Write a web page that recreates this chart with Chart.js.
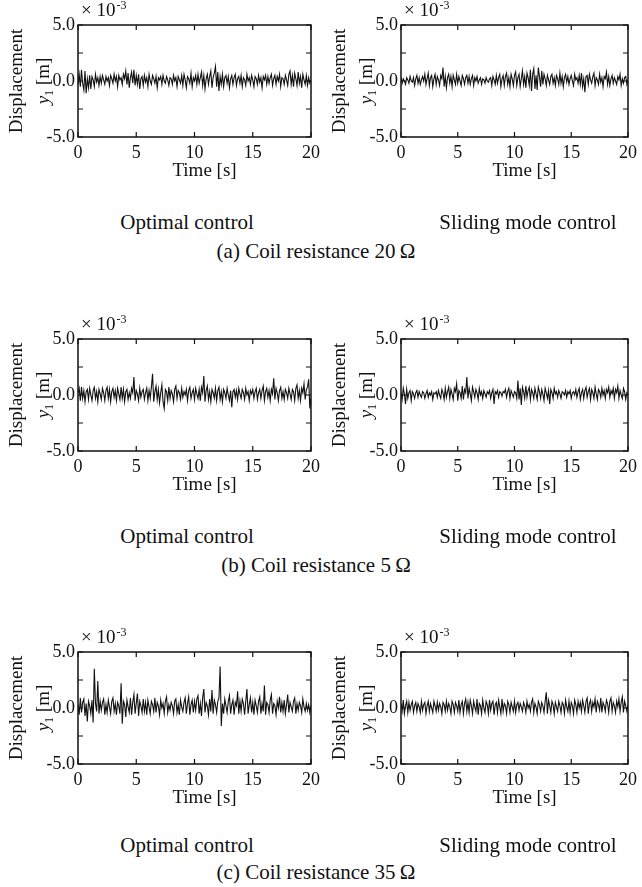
<!DOCTYPE html>
<html>
<head>
<meta charset="utf-8">
<script src="https://cdn.jsdelivr.net/npm/chart.js@4.4.1/dist/chart.umd.min.js"></script>
<style>
  body { margin: 0; background: #fff; }
  #page { position: relative; width: 642px; height: 887px; overflow: hidden; }
  canvas { position: absolute; }
  .cap { position: absolute; font-family: "Liberation Serif", serif; font-size: 21px; color: #111;
         transform: translate(-50%, -50%); white-space: nowrap; }
</style>
</head>
<body>
<div id="page"></div>
<script>
// displacement y1 in units of 1e-3 m, one sample every 0.1 s from 0 to 20 s
const sampleStep = 0.1;

const res20Optimal = [
  -0.3, 0.6, -0.5, 1.0, -0.2, -0.8, 0.9, -1.1, 0.2, -0.6, 0.5, -0.7, 0.4, 0.1, -0.5, 0.6, -0.1, 0.3, -0.4, 0.4,
  -0.2, 0.5, 0.1, -0.3, 0.4, 0.0, 0.3, -0.4, 0.5, 0.2, -0.2, 0.6, 0.0, 0.4, -0.5, 0.5, 0.1, 0.3, -0.3, 0.6,
  0.2, 0.9, -0.3, 0.7, -0.6, 0.3, 0.8, -0.2, 1.0, -0.4, 0.5, -0.3, 0.6, -0.7, 0.2, 0.4, -0.4, 0.5, -0.1, 0.3,
  -0.5, 0.6, 0.0, -0.3, 0.5, 0.2, -0.2, 0.4, -0.6, 0.3, 0.1, 0.4, -0.3, 0.5, 0.0, -0.2, 0.4, 0.1, -0.4, 0.3,
  0.2, -0.3, 0.5, 0.0, 0.3, -0.5, 0.4, 0.1, -0.2, 0.5, -0.4, 0.6, 0.1, -0.6, 0.4, 0.2, -0.2, 0.7, -0.5, 0.3,
  0.0, 0.5, -0.3, 0.6, -0.2, 0.3, 0.8, -0.4, 0.5, -0.7, 0.2, 0.6, -0.3, 0.4, 0.9, -0.6, 0.3, 0.7, 1.3, -0.5,
  0.8, -0.9, 0.4, -0.3, 0.6, -0.5, 0.3, 0.5, -0.2, 0.4, -0.6, 0.2, 0.5, -0.3, 0.3, 0.6, -0.4, 0.2, 0.4, -0.2,
  0.5, -0.5, 0.3, 0.1, -0.4, 0.6, 0.0, 0.3, -0.3, 0.5, 0.1, -0.5, 0.4, 0.2, -0.3, 0.5, -0.1, 0.3, -0.6, 0.4,
  0.1, 0.5, -0.3, 0.4, -0.2, 0.3, 0.6, -0.4, 0.2, 0.5, -0.3, 0.4, 0.0, 0.6, -0.5, 0.3, 0.2, -0.3, 0.5, 0.1,
  -0.4, 0.6, 0.9, -0.3, 0.5, -0.5, 0.7, 0.2, -0.4, 0.8, -0.2, 0.4, -0.6, 0.6, 0.1, -0.3, 0.5, -0.4, 0.3, -0.2,
  0.1
];
const res20Sliding = [
  0.3, -0.2, 0.2, 0.0, -0.3, 0.3, 0.1, -0.2, 0.4, 0.0, -0.1, 0.3, -0.4, 0.2, 0.5, -0.2, 0.3, -0.3, 0.1, 0.4,
  0.0, 0.6, -0.3, 0.2, 0.7, -0.4, 0.3, 0.5, -0.5, 0.2, 0.6, -0.3, 0.4, 0.1, -0.4, 0.5, 0.2, 1.2, -0.5, 0.4,
  -0.6, 0.3, 0.6, -0.2, 0.4, -0.5, 0.5, 0.1, -0.3, 0.6, -0.2, 0.4, 0.0, -0.4, 0.5, 0.2, -0.3, 0.3, 0.5, -0.2,
  0.4, -0.3, 0.2, 0.5, -0.4, 0.3, 0.0, 0.4, -0.2, 0.1, 0.3, -0.3, 0.2, 0.1, -0.2, 0.3, 0.0, -0.1, 0.2, 0.3,
  -0.4, 0.4, 0.1, -0.3, 0.5, -0.2, 0.3, 0.6, -0.5, 0.2, 0.5, -0.4, 0.4, 0.7, -0.3, 0.3, -0.5, 0.6, 0.2, -0.4,
  0.5, 0.8, -0.4, 0.3, 0.6, -0.5, 0.2, 0.9, -0.3, 0.4, -0.6, 0.7, 0.3, -0.4, 1.0, -0.9, 0.6, 1.1, -0.7, 0.5,
  -0.8, 1.2, 0.4, -0.5, 0.9, -0.3, 0.6, 0.2, -0.4, 0.5, 0.1, -0.3, 0.4, 0.6, -0.2, 0.3, -0.4, 0.5, 0.2, -0.3,
  0.7, -0.2, 0.4, -0.5, 0.3, 0.6, -0.1, 0.4, -0.3, 0.2, 0.5, 0.0, -0.4, 0.6, 0.1, 0.3, -0.2, 0.5, -0.3, 0.7,
  -0.5, 0.2, -1.0, 0.4, 0.5, -0.3, 0.6, 0.1, -0.2, 0.4, 0.7, -0.4, 0.3, 0.1, -0.3, 0.6, -0.1, 0.3, -0.5, 0.4,
  0.2, 0.8, -0.3, 0.4, -0.4, 0.2, 0.5, -0.2, 0.3, 0.0, -0.3, 0.4, 0.1, 0.6, -0.4, 0.2, -0.2, 0.3, 0.4, -0.3,
  0.1
];
const res5Optimal = [
  0.2, 0.6, -0.5, 0.7, -0.3, 0.4, -0.6, 0.3, 0.5, -0.4, 0.6, 0.0, -0.5, 0.4, 0.7, -0.3, 0.3, -0.6, 0.5, 0.1,
  -0.4, 0.6, 0.2, -0.5, 0.4, 0.7, -0.3, 0.5, -0.6, 0.3, 0.6, -0.2, 0.4, -0.5, 0.6, 0.1, -0.4, 0.7, -0.3, 0.5,
  -0.6, 0.3, 0.5, -0.4, 0.2, -0.3, 0.6, 0.2, 1.6, -0.5, 0.4, 0.1, -0.5, 0.6, -0.2, 0.3, 0.5, -0.4, 0.2, 0.6,
  -0.5, 0.4, -0.3, 0.7, 1.9, -0.6, 0.3, 0.8, -0.4, 0.5, -0.7, 0.2, 0.9, -0.6, -1.2, 0.5, 0.3, -0.5, 0.7, -0.3,
  0.4, 0.1, -0.6, 0.5, 0.8, -0.3, 0.4, 0.2, -0.4, 0.6, -0.2, 0.3, 0.0, 0.5, -0.5, 0.4, 0.7, -0.3, 0.2, 0.5,
  -0.4, 0.6, 0.1, -0.3, 0.5, -0.5, 0.7, 0.2, 1.7, -0.6, 0.4, 0.8, -0.4, 0.3, -0.6, 0.5, 0.2, -0.3, 0.6, -0.5,
  0.4, 0.7, -0.4, 0.3, -0.6, 0.5, 0.2, -0.3, 0.6, 0.0, -0.5, 0.4, -1.1, 0.3, 0.5, -0.2, 0.4, -0.4, 0.6, 0.1,
  -0.3, 0.5, 0.2, -0.4, 0.6, 0.0, 0.3, -0.5, 0.4, 0.1, 0.5, -0.3, 0.3, 0.6, -0.4, 0.2, 0.5, -0.3, 0.4, 0.8,
  -0.5, 0.3, 0.6, -0.2, 0.4, -0.5, 0.5, 0.1, 1.5, -0.4, 0.6, 0.2, -0.5, 0.4, 0.7, -0.3, 0.3, -0.4, 0.5, 0.2,
  -0.3, 0.6, 0.1, -0.4, 0.5, 0.3, -0.5, 0.6, 0.9, -0.3, 0.4, -0.5, 0.6, 0.2, 1.0, -0.4, 0.5, 0.7, 1.4, -1.2,
  -0.3
];
const res5Sliding = [
  0.2, -0.4, 0.6, 0.1, -0.8, 0.5, -0.3, 0.2, 0.4, -0.5, 0.3, 0.1, -0.3, 0.2, 0.4, -0.2, 0.3, 0.0, -0.2, 0.3,
  0.2, -0.3, 0.1, 0.4, -0.2, 0.2, 0.0, 0.3, -0.4, 0.2, 0.1, 0.3, -0.2, 0.4, 0.0, -0.3, 0.5, 0.2, -0.4, 0.6,
  -0.2, 0.3, 0.7, -0.3, 0.5, 0.1, -0.4, 0.6, 0.3, 1.0, -0.5, 0.4, 0.2, -0.3, 0.8, -0.4, 0.5, 0.2, 1.6, -0.3,
  0.6, 0.1, -0.5, 0.7, 0.3, -0.2, 0.5, 0.2, -0.4, 0.6, 0.0, 0.3, -0.3, 0.4, 0.1, -0.2, 0.3, 0.1, 0.4, -0.3,
  0.2, 0.5, -0.8, 0.3, 0.1, 0.4, -0.2, 0.3, 0.2, -0.1, 0.3, 0.2, 0.5, -0.2, 0.3, 0.6, -0.3, 0.4, 0.1, -0.2,
  0.3, 0.2, -0.3, 1.3, -0.4, 0.6, -0.9, 0.7, 0.3, -0.3, 0.8, -0.2, 0.4, 0.7, -0.4, 0.5, 0.2, -0.3, 0.6, 0.1,
  -0.4, 0.7, 0.3, -0.3, 0.5, 0.1, -0.5, 0.6, 0.2, -0.3, 0.4, -0.8, 0.5, 0.2, -0.3, 0.6, 0.1, 0.3, -0.2, 0.4,
  0.1, -0.3, 0.3, 0.2, 0.0, 0.4, -0.2, 0.3, 0.1, 0.4, -0.3, 0.2, 0.3, 0.0, 0.5, -0.2, 0.3, 0.6, -0.4, 0.2,
  0.5, -0.3, 0.4, 0.7, -0.2, 0.3, 0.6, -0.4, 0.5, 0.2, -0.3, 0.7, 0.1, -0.4, 0.5, 0.3, -0.2, 0.6, 0.0, 0.4,
  -0.3, 0.5, 0.2, 0.7, -0.2, 0.4, 0.1, 0.6, -0.3, 0.5, 0.2, 0.8, -0.3, 0.4, 0.0, -0.3, 0.6, 0.3, -0.4, 0.2,
  0.0
];
const res35Optimal = [
  0.3, -0.6, 0.9, -0.4, 0.5, 0.8, -0.7, 0.4, -1.2, 0.6, 0.2, -0.5, 0.7, -1.3, 3.5, 0.4, -0.3, 2.4, -0.5, 0.6,
  -0.2, 0.5, 0.8, -0.6, 0.3, -0.4, 0.7, 0.1, -0.5, 0.6, 0.9, -0.3, 0.4, -0.6, 0.5, 0.2, -0.5, 2.2, -1.4, 0.6,
  0.3, -0.8, 0.7, 0.1, -0.4, 0.9, -0.6, 0.5, 1.2, -0.5, 0.4, 1.3, -0.7, 0.6, 0.2, -0.4, 0.8, -0.3, 0.5, -0.6,
  0.7, 0.1, -0.5, 0.6, 0.3, -0.3, 0.9, -0.4, 0.5, 0.2, -0.6, 0.7, 0.0, 0.4, -0.5, 0.6, 1.0, -0.4, 0.3, -0.2,
  0.5, 0.2, -0.5, 0.6, 0.8, -0.4, 0.3, -0.6, 0.7, 0.1, -0.3, 0.5, 0.9, -0.5, 0.4, 1.0, -0.6, 0.3, 0.7, -0.4,
  0.6, -0.2, 0.8, 1.1, -0.5, 0.4, -0.7, 0.9, 1.7, -0.4, 0.5, 0.2, -0.6, 0.8, -0.3, 1.6, -0.5, 0.7, 0.3, -0.4,
  0.6, 0.9, 3.7, -1.6, 0.4, -0.5, 0.8, 0.2, -0.4, 0.6, 1.1, -0.5, 0.3, 0.7, -0.6, 0.5, 0.2, 1.5, -0.5, 0.6,
  -0.3, 0.8, 0.4, -0.6, 0.6, 1.7, -0.5, 0.3, 0.9, -0.4, 0.5, -0.6, 0.7, 0.2, -0.4, 0.6, 1.0, -0.5, 0.4, -0.3,
  2.0, -0.6, 0.5, 0.3, -0.4, 0.7, 1.2, -0.5, 0.4, 0.2, -0.6, 0.6, 0.0, 1.0, -0.4, 0.5, -0.3, 0.7, -0.5, 0.3,
  1.2, -0.4, 0.5, 0.1, -0.3, 0.6, 0.9, -0.5, 0.4, -0.2, 0.5, 0.2, -0.4, 0.8, 0.1, -0.3, 0.4, -0.2, 0.3, -0.4,
  0.2
];
const res35Sliding = [
  0.4, -0.3, 0.7, -0.5, 0.2, 0.6, -0.4, 0.5, -0.2, 0.3, 0.6, -0.4, 0.2, 0.5, -0.3, 0.4, 0.1, -0.4, 0.6, -0.2,
  0.3, 0.5, -0.5, 0.2, 0.6, -0.3, 0.4, 0.0, -0.4, 0.6, 0.2, -0.3, 0.5, -0.2, 0.4, 0.1, -0.5, 0.5, 0.3, -0.3,
  0.6, -0.2, 0.4, 0.1, -0.5, 0.6, 0.3, -0.4, 0.5, 0.2, -0.3, 0.7, -0.4, 0.3, 0.6, -0.5, 0.4, 0.8, -0.3, 0.5,
  -0.4, 0.7, 0.2, -0.5, 0.6, 0.1, -0.3, 0.8, -0.6, 0.4, 0.2, -0.5, 0.7, 0.0, -0.4, 0.6, 0.3, -0.5, 0.7, -0.2,
  0.4, 0.6, -0.6, 0.3, 0.5, -0.4, 0.7, 0.1, -0.5, 0.8, -0.3, 0.4, 0.2, -0.5, 0.6, 0.3, -0.4, 0.5, 0.1, -0.3,
  0.6, -0.4, 0.3, 0.5, -0.2, 0.4, 0.1, -0.3, 0.5, 0.2, -0.4, 0.6, 0.0, 0.3, -0.3, 0.5, 0.8, -0.4, 0.4, 0.1,
  -0.5, 0.6, 0.3, -0.3, 0.5, 0.2, -0.4, 0.6, 1.4, -0.5, 0.7, 0.2, -0.4, 0.6, 0.3, -0.5, 0.5, 0.1, -0.3, 0.6,
  0.2, -0.4, 0.5, 0.3, -0.5, 0.7, 0.1, -0.3, 0.6, -0.4, 0.5, 0.2, -0.5, 0.7, 0.3, -0.4, 0.6, 0.0, 0.5, -0.3,
  0.7, 0.2, -0.4, 0.6, 0.9, -0.5, 0.4, 0.7, -0.3, 0.5, 0.1, 0.8, -0.4, 0.6, 0.3, -0.2, 0.9, -0.4, 0.5, 0.2,
  -0.3, 0.7, 0.4, -0.4, 0.6, 0.9, -0.3, 0.5, 0.2, -0.4, 0.6, 0.1, 0.8, -0.3, 0.5, 1.0, -0.4, 0.6, 0.2, -0.3,
  0.3
];

const xTickValues = [0, 5, 10, 15, 20];
const yTickValues = [-5, -2.5, 0, 2.5, 5];
const yLabelledTicks = [-5, 0, 5];
const controlNames = ['Optimal control', 'Sliding mode control'];
const caseTitles = ['(a) Coil resistance 20\u2009\u03A9', '(b) Coil resistance 5\u2009\u03A9', '(c) Coil resistance 35\u2009\u03A9'];
const caseSeries = [[res20Optimal, res20Sliding], [res5Optimal, res5Sliding], [res35Optimal, res35Sliding]];

// layout (px)
const rowTops = [25, 339, 652];
const nameRows = [222, 536, 845];
const titleRows = [251, 565, 872];
const colLefts = [0, 323];
const colWidths = [330, 319];
const colRightPad = [19, 10];
const plotHeight = 112;
const canvasHeight = 190;
const capCentres = [187, 528];
const titleCentre = 316;

const serif = '"Liberation Serif", "Times New Roman", serif';

const framePlugin = {
  id: 'frame',
  afterDraw(chart) {
    const { ctx, chartArea: a, scales: { x, y } } = chart;
    ctx.save();
    ctx.strokeStyle = '#111';
    ctx.lineWidth = 1.5;
    ctx.strokeRect(a.left, a.top, a.right - a.left, a.bottom - a.top);
    ctx.lineWidth = 1.2;
    ctx.beginPath();
    x.ticks.forEach(t => {
      const px = x.getPixelForValue(t.value);
      ctx.moveTo(px, a.bottom); ctx.lineTo(px, a.bottom - 5);
      ctx.moveTo(px, a.top); ctx.lineTo(px, a.top + 5);
    });
    y.ticks.forEach(t => {
      const py = y.getPixelForValue(t.value);
      ctx.moveTo(a.left, py); ctx.lineTo(a.left + 5, py);
      ctx.moveTo(a.right, py); ctx.lineTo(a.right - 5, py);
    });
    ctx.stroke();

    ctx.fillStyle = '#111';
    // exponent label
    ctx.textAlign = 'left';
    ctx.textBaseline = 'alphabetic';
    ctx.font = '19px ' + serif;
    ctx.fillText('\u00D7 10', a.left + 3, a.top - 9);
    const w10 = ctx.measureText('\u00D7 10').width;
    ctx.font = '12px ' + serif;
    ctx.fillText('-3', a.left + 4 + w10, a.top - 16);

    // x title
    ctx.font = '19px ' + serif;
    ctx.textAlign = 'center';
    ctx.textBaseline = 'middle';
    ctx.fillText('Time [s]', (a.left + a.right) / 2 + 10, a.bottom + 34);

    // y titles
    const midY = (a.top + a.bottom) / 2;
    ctx.save();
    ctx.translate(a.left - 61, midY);
    ctx.rotate(-Math.PI / 2);
    ctx.fillText('Displacement', 0, 0);
    ctx.restore();

    ctx.save();
    ctx.translate(a.left - 35, midY);
    ctx.rotate(-Math.PI / 2);
    ctx.textAlign = 'left';
    ctx.textBaseline = 'alphabetic';
    ctx.font = 'italic 19px ' + serif;
    const wy = ctx.measureText('y').width;
    ctx.font = '12px ' + serif;
    const w1 = ctx.measureText('1').width;
    ctx.font = '19px ' + serif;
    const wm = ctx.measureText(' [m]').width;
    let sx = -(wy + w1 + wm) / 2;
    ctx.font = 'italic 19px ' + serif;
    ctx.fillText('y', sx, 6);
    sx += wy;
    ctx.font = '12px ' + serif;
    ctx.fillText('1', sx, 10);
    sx += w1;
    ctx.font = '19px ' + serif;
    ctx.fillText(' [m]', sx, 6);
    ctx.restore();

    ctx.restore();
  }
};

const page = document.getElementById('page');

caseSeries.forEach((pair, row) => {
  pair.forEach((values, col) => {
    const canvas = document.createElement('canvas');
    canvas.width = colWidths[col];
    canvas.height = canvasHeight;
    canvas.style.left = colLefts[col] + 'px';
    canvas.style.top = (rowTops[row] - 25) + 'px';
    page.appendChild(canvas);

    const points = values.map((v, i) => ({ x: +(i * sampleStep).toFixed(1), y: v }));

    new Chart(canvas, {
      type: 'line',
      data: {
        datasets: [{
          data: points,
          borderColor: '#111',
          borderWidth: 1.1,
          pointRadius: 0,
          tension: 0
        }]
      },
      options: {
        responsive: false,
        animation: false,
        events: [],
        layout: { padding: { top: 25, right: colRightPad[col], left: 0, bottom: 0 } },
        plugins: { legend: { display: false }, tooltip: { enabled: false } },
        scales: {
          x: {
            type: 'linear',
            min: 0, max: 20,
            afterBuildTicks: s => { s.ticks = xTickValues.map(v => ({ value: v })); },
            afterFit: s => { s.height = canvasHeight - 25 - plotHeight; },
            grid: { display: false, drawTicks: false },
            border: { display: false },
            ticks: {
              padding: 5,
              maxRotation: 0,
              autoSkip: false,
              color: '#111',
              font: { family: serif, size: 18 },
              callback: v => String(v)
            }
          },
          y: {
            min: -5, max: 5,
            afterBuildTicks: s => { s.ticks = yTickValues.map(v => ({ value: v })); },
            afterFit: s => { s.width = 78; },
            grid: { display: false, drawTicks: false },
            border: { display: false },
            ticks: {
              padding: 3,
              autoSkip: false,
              color: '#111',
              font: { family: serif, size: 18 },
              callback: v => yLabelledTicks.includes(v) ? v.toFixed(1) : ''
            }
          }
        }
      },
      plugins: [framePlugin]
    });
  });

  controlNames.forEach((name, col) => {
    const d = document.createElement('div');
    d.className = 'cap';
    d.textContent = name;
    d.style.left = capCentres[col] + 'px';
    d.style.top = nameRows[row] + 'px';
    page.appendChild(d);
  });
  const t = document.createElement('div');
  t.className = 'cap';
  t.textContent = caseTitles[row];
  t.style.left = titleCentre + 'px';
  t.style.top = titleRows[row] + 'px';
  page.appendChild(t);
});
</script>
</body>
</html>
